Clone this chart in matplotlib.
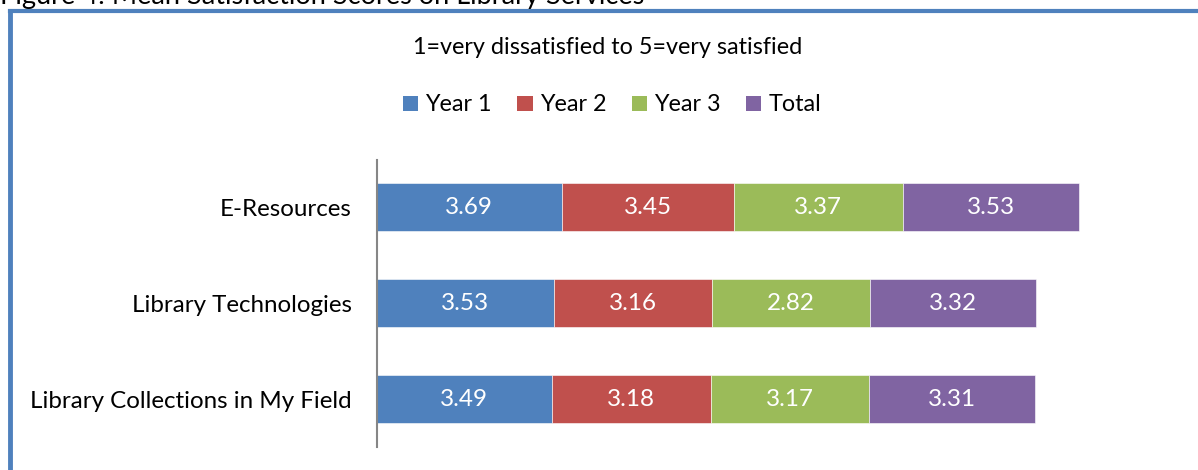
import matplotlib
matplotlib.use("Agg")
import matplotlib.pyplot as plt
from matplotlib.lines import Line2D
from matplotlib.patches import Patch
import numpy as np

plt.rcParams['font.family'] = ['Lato', 'DejaVu Sans']

categories = ["E-Resources", "Library Technologies", "Library Collections in My Field"]
series_names = ["Year 1", "Year 2", "Year 3", "Total"]
# segment lengths as drawn in the picture
year1 = [3.69, 3.53, 3.49]
year2 = [3.45, 3.16, 3.18]
year3 = [3.37, 3.17, 3.17]
total = [3.53, 3.32, 3.31]
# data labels as printed in the picture
year1_labels = ["3.69", "3.53", "3.49"]
year2_labels = ["3.45", "3.16", "3.18"]
year3_labels = ["3.37", "2.82", "3.17"]
total_labels = ["3.53", "3.32", "3.31"]

colors = ["#4F81BD", "#C0504D", "#9BBB59", "#8064A2"]
W, H = 1198, 470
fig = plt.figure(figsize=(W / 100, H / 100), dpi=100)

ax = fig.add_axes([377 / W, (H - 447) / H, 800 / W, 287 / H])
y = np.arange(len(categories))
left = np.zeros(len(categories))
series = [year1, year2, year3, total]
labels = [year1_labels, year2_labels, year3_labels, total_labels]
for vals, labs, c in zip(series, labels, colors):
    vals = np.array(vals)
    bars = ax.barh(y, vals, left=left, height=0.5, color=c, edgecolor="white", linewidth=0.4)
    for b, t in zip(bars, labs):
        ax.text(b.get_x() + b.get_width() / 2, b.get_y() + b.get_height() / 2, t,
                ha="center", va="center", color="white", fontsize=17.5)
    left = left + vals

ax.set_xlim(0, 16)
ax.set_ylim(2.5, -0.49)
ax.set_yticks(y)
ax.set_yticklabels(categories, fontsize=17.4)
ax.tick_params(axis="y", length=0, pad=18)
ax.set_xticks([])
for s in ["top", "right", "bottom"]:
    ax.spines[s].set_visible(False)
ax.spines["left"].set_color("#868686")
ax.spines["left"].set_linewidth(1.5)

fig.text(608 / W, 1 - 47 / H, "1=very dissatisfied to 5=very satisfied",
         ha="center", va="center", fontsize=16.8)

handles = [Patch(facecolor=c, edgecolor="none") for c in colors]
fig.legend(handles, series_names, loc="center", bbox_to_anchor=(612 / W, 1 - 105 / H),
           ncol=4, frameon=False, fontsize=16.8, handlelength=0.65, handleheight=0.65,
           handletextpad=0.3, columnspacing=1.1)

# cropped figure caption above frame
fig.text(0, 1 - 4 / H, "Figure 4: Mean Satisfaction Scores on Library Services",
         ha="left", va="baseline", fontsize=19.5)

# frame
fig.add_artist(Line2D([10 / W, 1], [1 - 11 / H, 1 - 11 / H], color="#4F81BD", linewidth=3))
fig.add_artist(Line2D([10 / W, 10 / W], [0, 1 - 11 / H], color="#4F81BD", linewidth=3.5))

fig.savefig("out.png", dpi=100)
